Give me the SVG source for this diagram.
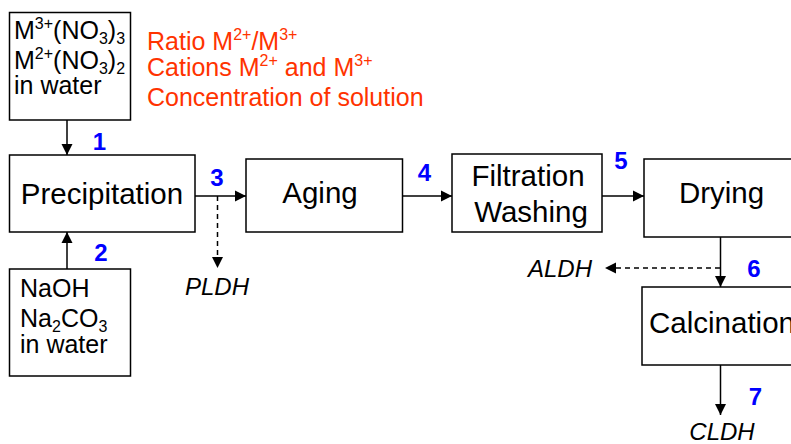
<svg xmlns="http://www.w3.org/2000/svg" width="791" height="444" viewBox="0 0 791 444">
<defs>
<style>
.box{fill:#fff;stroke:#000;stroke-width:1.5}
.t{font-family:"Liberation Sans",Arial,sans-serif;fill:#000}
.big{font-size:29.5px}
.mid{font-size:25px}
.red{font-family:"Liberation Sans",Arial,sans-serif;font-size:25px;fill:#FF3300}
.num{font-family:"Liberation Sans",Arial,sans-serif;font-size:24px;font-weight:bold;fill:#0000FF;text-anchor:middle}
.lbl{font-family:"Liberation Sans",Arial,sans-serif;font-size:24px;font-style:italic;fill:#000;text-anchor:middle}
.ln{fill:none;stroke:#000;stroke-width:1.5}
.dash{stroke-dasharray:5,4}
.s{font-size:16px}
</style>
<marker id="ah" markerUnits="userSpaceOnUse" markerWidth="12" markerHeight="12" refX="11" refY="6" orient="auto">
<path d="M0,0.5 L11,6 L0,11.5 z" fill="#000"/>
</marker>
</defs>

<g id="connectors">
<line class="ln" x1="67" y1="120" x2="67" y2="155" marker-end="url(#ah)"/>
<line class="ln" x1="67" y1="269" x2="67" y2="232" marker-end="url(#ah)"/>
<line class="ln" x1="195" y1="196" x2="246" y2="196" marker-end="url(#ah)"/>
<line class="ln dash" x1="217.5" y1="196" x2="217.5" y2="268" marker-end="url(#ah)"/>
<line class="ln" x1="403" y1="196" x2="452" y2="196" marker-end="url(#ah)"/>
<line class="ln" x1="602" y1="196" x2="644" y2="196" marker-end="url(#ah)"/>
<line class="ln" x1="720.5" y1="232" x2="720.5" y2="287" marker-end="url(#ah)"/>
<line class="ln dash" x1="720" y1="268" x2="605" y2="268" marker-end="url(#ah)"/>
<line class="ln" x1="720.5" y1="360" x2="720.5" y2="415" marker-end="url(#ah)"/>
<text class="num" x="99.5" y="150">1</text>
<text class="num" x="101" y="260.5">2</text>
<text class="num" x="217" y="185.5">3</text>
<text class="num" x="424.5" y="180.5">4</text>
<text class="num" x="621" y="169">5</text>
<text class="num" x="754" y="276.5">6</text>
<text class="num" x="755.5" y="405">7</text>
<text class="lbl" x="217" y="295">PLDH</text>
<text class="lbl" x="560" y="277">ALDH</text>
<text class="lbl" x="722" y="440">CLDH</text>
</g>

<g id="nitrates">
<rect class="box" x="9.5" y="12.5" width="121" height="107.5"/>
<text class="t mid" x="14" y="39">M<tspan class="s" dy="-10">3+</tspan><tspan dy="10">(NO</tspan><tspan class="s" dy="5">3</tspan><tspan dy="-5">)</tspan><tspan class="s" dy="5">3</tspan></text>
<text class="t mid" x="14" y="69">M<tspan class="s" dy="-10">2+</tspan><tspan dy="10">(NO</tspan><tspan class="s" dy="5">3</tspan><tspan dy="-5">)</tspan><tspan class="s" dy="5">2</tspan></text>
<text class="t mid" x="14" y="94">in water</text>
</g>

<g id="parameters">
<text class="red" x="147" y="50">Ratio M<tspan class="s" dy="-10">2+</tspan><tspan dy="10">/M</tspan><tspan class="s" dy="-10">3+</tspan></text>
<text class="red" x="147" y="76">Cations M<tspan class="s" dy="-10">2+</tspan><tspan dy="10"> and M</tspan><tspan class="s" dy="-10">3+</tspan></text>
<text class="red" x="147" y="106">Concentration of solution</text>
</g>

<g id="precipitation">
<rect class="box" x="9.5" y="155" width="185.5" height="77"/>
<text class="t big" x="102" y="204" text-anchor="middle">Precipitation</text>
</g>

<g id="base">
<rect class="box" x="9.5" y="269" width="121" height="107"/>
<text class="t mid" x="20" y="297">NaOH</text>
<text class="t mid" x="20" y="327">Na<tspan class="s" dy="5">2</tspan><tspan dy="-5">CO</tspan><tspan class="s" dy="5">3</tspan></text>
<text class="t mid" x="20" y="353">in water</text>
</g>

<g id="aging">
<rect class="box" x="246" y="159" width="156.5" height="73"/>
<text class="t big" x="320" y="203" text-anchor="middle">Aging</text>
</g>

<g id="filtration">
<rect class="box" x="452" y="154" width="150" height="78"/>
<text class="t big" x="528" y="185.5" text-anchor="middle">Filtration</text>
<text class="t big" x="531" y="221.5" text-anchor="middle">Washing</text>
</g>

<g id="drying">
<rect class="box" x="644" y="159" width="160" height="78"/>
<text class="t big" x="721.5" y="203" text-anchor="middle">Drying</text>
</g>

<g id="calcination">
<rect class="box" x="642" y="287" width="160" height="78"/>
<text class="t big" x="649" y="333">Calcination</text>
</g>
</svg>
